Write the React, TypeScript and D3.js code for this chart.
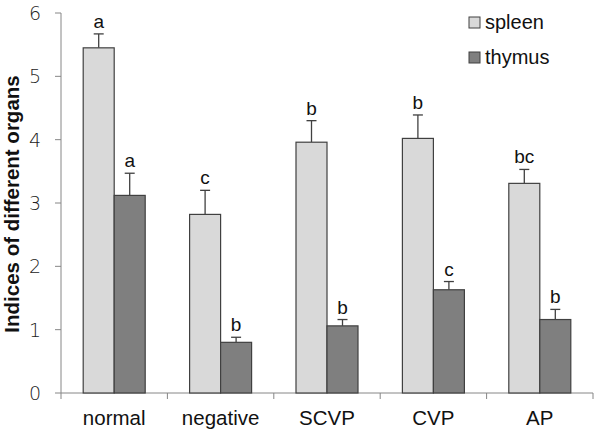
import React from "react";
import * as d3 from "d3";

const categories = ["normal", "negative", "SCVP", "CVP", "AP"];
const seriesNames = ["spleen", "thymus"];
const spleen = [5.45, 2.82, 3.96, 4.02, 3.31];
const spleenErr = [0.22, 0.38, 0.34, 0.37, 0.22];
const thymus = [3.12, 0.8, 1.06, 1.63, 1.16];
const thymusErr = [0.35, 0.08, 0.1, 0.13, 0.16];
const spleenLetters = ["a", "c", "b", "b", "bc"];
const thymusLetters = ["a", "b", "b", "c", "b"];
const yTicks = [0, 1, 2, 3, 4, 5, 6];
const colors = ["#d9d9d9", "#7f7f7f"];

export default function App() {
  const W = 600, H = 434;
  const left = 61, right = 593, top = 13, bottom = 393;
  const x = d3.scaleBand().domain(categories).range([left, right]).padding(0);
  const y = d3.scaleLinear().domain([0, 6]).range([bottom, top]);
  const groupW = 62;
  const barW = groupW / 2;
  const series = [
    { name: seriesNames[0], vals: spleen, errs: spleenErr, letters: spleenLetters, color: colors[0] },
    { name: seriesNames[1], vals: thymus, errs: thymusErr, letters: thymusLetters, color: colors[1] },
  ];
  const font = "'Liberation Sans', Arial, sans-serif";
  return (
    <svg width={W} height={H} style={{ position: "absolute", left: 0, top: 0 }} fontFamily={font}>
      <rect width={W} height={H} fill="#fff" />
      {/* y axis */}
      <line x1={left} x2={left} y1={top} y2={bottom} stroke="#868686" strokeWidth={1} />
      {yTicks.map((t) => (
        <g key={t}>
          <line x1={left - 6} x2={left} y1={y(t)} y2={y(t)} stroke="#868686" />
          <text x={41} y={y(t)} dy="0.36em" textAnchor="end" fontSize={19} fill="#222" fontFamily="'DejaVu Sans', sans-serif" fontWeight={300}>
            {t}
          </text>
        </g>
      ))}
      {/* x axis */}
      <line x1={left} x2={right} y1={bottom} y2={bottom} stroke="#868686" />
      {categories.map((c) => (
        <line key={c} x1={x(c)! + x.bandwidth()} x2={x(c)! + x.bandwidth()} y1={bottom} y2={bottom + 6} stroke="#868686" />
      ))}
      <line x1={left} x2={left} y1={bottom} y2={bottom + 6} stroke="#868686" />
      {categories.map((c) => (
        <text key={c} x={x(c)! + x.bandwidth() / 2} y={425} textAnchor="middle" fontSize={20.5} fill="#111">
          {c}
        </text>
      ))}
      {/* bars */}
      {series.map((s, si) =>
        categories.map((c, i) => {
          const cx = x(c)! + x.bandwidth() / 2;
          const bx = cx - groupW / 2 + si * barW;
          const yv = y(s.vals[i]);
          const ye = y(s.vals[i] + s.errs[i]);
          const mx = bx + barW / 2;
          return (
            <g key={s.name + c}>
              <line x1={mx} x2={mx} y1={yv} y2={ye} stroke="#404040" strokeWidth={1.3} />
              <line x1={mx - 5} x2={mx + 5} y1={ye} y2={ye} stroke="#404040" strokeWidth={1.3} />
              <rect x={bx} y={yv} width={barW} height={bottom - yv} fill={s.color} stroke="#404040" strokeWidth={1.2} />
              <text x={mx} y={ye - 6} textAnchor="middle" fontSize={19} fill="#111">
                {s.letters[i]}
              </text>
            </g>
          );
        })
      )}
      {/* y label */}
      <text transform={`translate(19,${(72 + 336) / 2}) rotate(-90)`} textAnchor="middle" fontSize={20.5} fontWeight="bold" fill="#111">
        Indices of different organs
      </text>
      {/* legend */}
      {series.map((s, si) => (
        <g key={s.name} transform={`translate(469,${17 + si * 35})`}>
          <rect x={0} y={0} width={11} height={11} fill={s.color} stroke="#404040" strokeWidth={1} />
          <text x={16} y={12} fontSize={20} fill="#111">
            {s.name}
          </text>
        </g>
      ))}
    </svg>
  );
}
